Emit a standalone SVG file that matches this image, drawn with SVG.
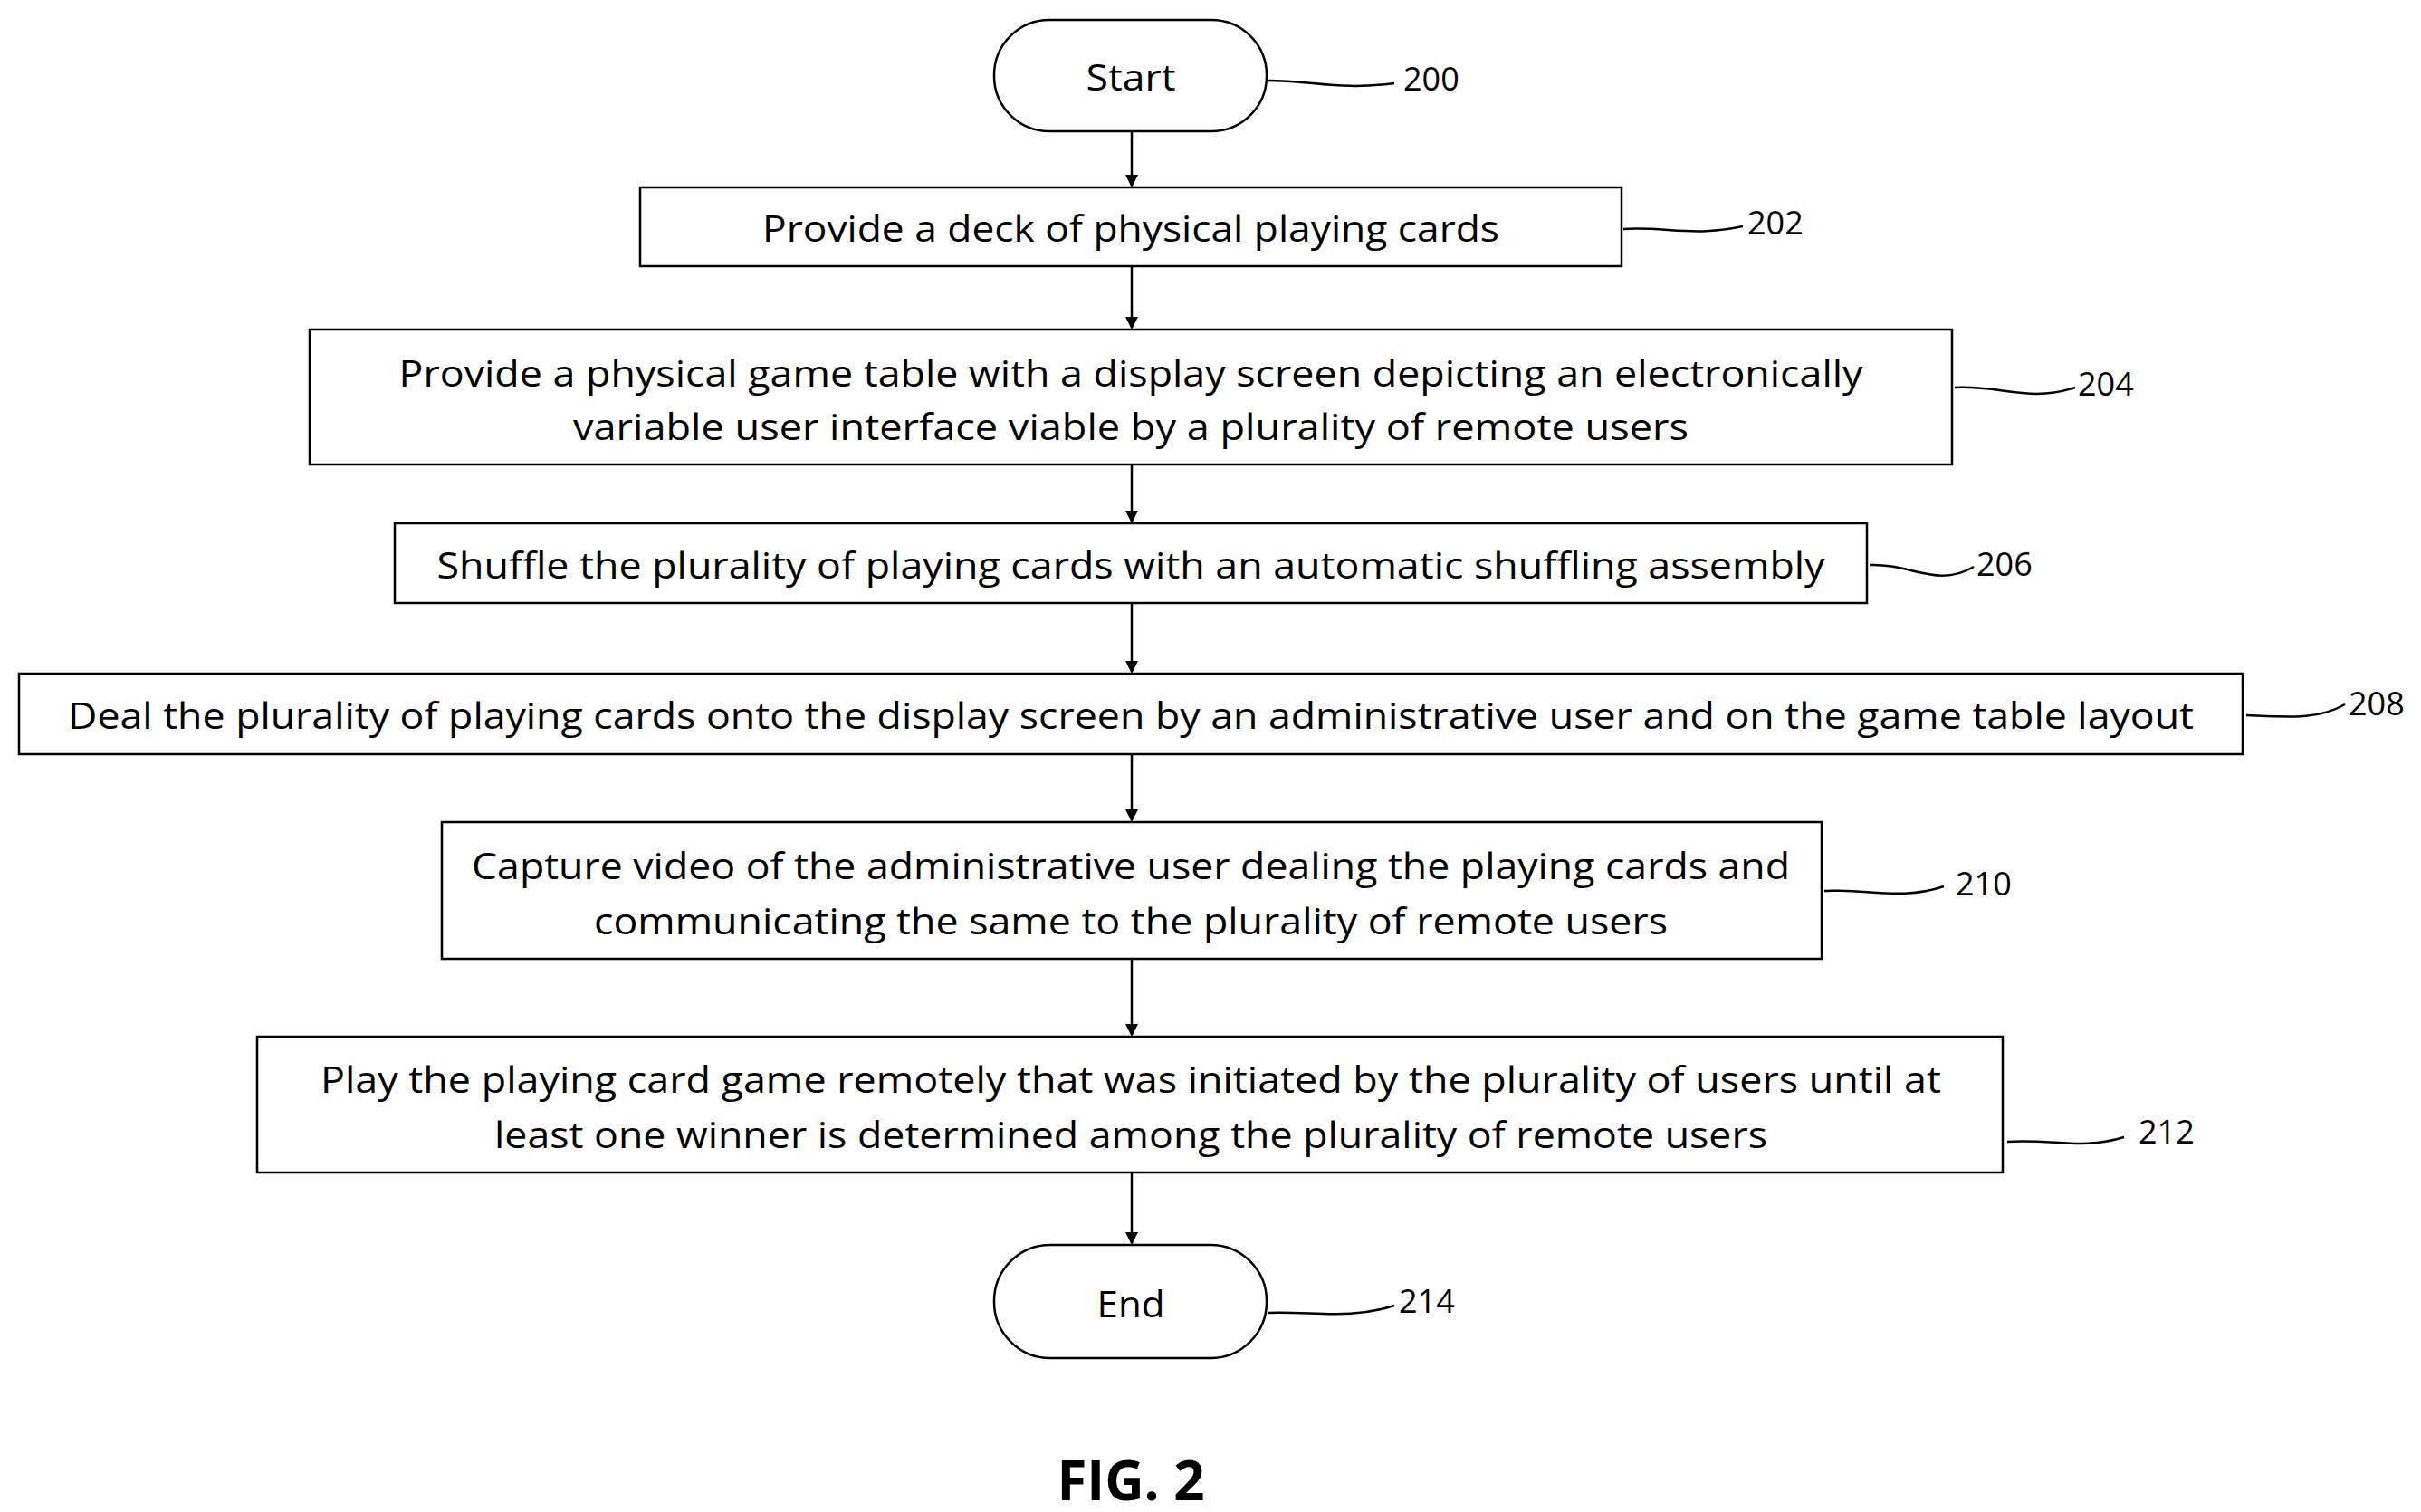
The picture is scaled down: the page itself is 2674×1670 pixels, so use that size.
<svg xmlns="http://www.w3.org/2000/svg" width="2674" height="1670" viewBox="0 0 2674 1670">
<style>
.b{fill:#fff;stroke:#000;stroke-width:2.5}
.t{font-family:"Open Sans","Liberation Sans",sans-serif;font-size:41px;fill:#000;text-anchor:middle;dominant-baseline:central}
.n{font-family:"Open Sans","Liberation Sans",sans-serif;font-size:36px;fill:#000;dominant-baseline:central}
.l{fill:none;stroke:#000;stroke-width:2.5}
</style>
<defs><marker id="a" markerWidth="10" markerHeight="10" refX="9" refY="5" orient="auto" markerUnits="userSpaceOnUse" viewBox="0 0 10 10"><path d="M0,0L10,5L0,10Z"/></marker></defs>
<rect width="2674" height="1670" fill="#fff"/>
<g id="connectors" class="l">
<line x1="1250" y1="146" x2="1250" y2="205" marker-end="url(#a)" transform="translate(0,0)"/>
<line x1="1250" y1="295" x2="1250" y2="362"/>
<line x1="1250" y1="514" x2="1250" y2="576"/>
<line x1="1250" y1="667" x2="1250" y2="742"/>
<line x1="1250" y1="834" x2="1250" y2="906"/>
<line x1="1250" y1="1060" x2="1250" y2="1143"/>
<line x1="1250" y1="1296" x2="1250" y2="1373"/>
<path d="M1400,89 C1450,89 1480,100 1540,92"/>
<path d="M1793,253 C1840,250 1870,262 1925,250"/>
<path d="M2159,428 C2210,425 2240,445 2292,428"/>
<path d="M2065,624 C2110,622 2140,650 2180,626"/>
<path d="M2481,790 C2530,792 2560,795 2590,778"/>
<path d="M2015,984 C2060,981 2100,995 2147,979"/>
<path d="M2217,1261 C2270,1258 2300,1270 2346,1256"/>
<path d="M1400,1450 C1450,1448 1490,1458 1540,1442"/>
</g>
<g fill="#000">
<path d="M1243,193L1257,193L1250,207Z"/><path d="M1243,350L1257,350L1250,364Z"/><path d="M1243,564L1257,564L1250,578Z"/><path d="M1243,730L1257,730L1250,744Z"/><path d="M1243,894L1257,894L1250,908Z"/><path d="M1243,1131L1257,1131L1250,1145Z"/><path d="M1243,1361L1257,1361L1250,1375Z"/>
</g>
<g id="n200"><rect class="b" x="1098" y="22" width="301" height="123" rx="61"/><text class="t" x="1249" y="84" textLength="99" lengthAdjust="spacingAndGlyphs">Start</text><text class="n" x="1550" y="86">200</text></g>
<g id="n202"><rect class="b" x="707" y="207" width="1084" height="87"/><text class="t" x="1249" y="251" textLength="814" lengthAdjust="spacingAndGlyphs">Provide a deck of physical playing cards</text><text class="n" x="1930" y="245">202</text></g>
<g id="n204"><rect class="b" x="342" y="364" width="1814" height="149"/><text class="t" x="1249" y="411" textLength="1617" lengthAdjust="spacingAndGlyphs">Provide a physical game table with a display screen depicting an electronically</text><text class="t" x="1249" y="470" textLength="1232" lengthAdjust="spacingAndGlyphs">variable user interface  viable by a plurality of remote users</text><text class="n" x="2295" y="423">204</text></g>
<g id="n206"><rect class="b" x="436" y="578" width="1626" height="88"/><text class="t" x="1249" y="623" textLength="1533" lengthAdjust="spacingAndGlyphs">Shuffle the plurality of playing cards with an automatic shuffling assembly</text><text class="n" x="2183" y="622">206</text></g>
<g id="n208"><rect class="b" x="21" y="744" width="2456" height="89"/><text class="t" x="1249" y="789" textLength="2348" lengthAdjust="spacingAndGlyphs">Deal the plurality of playing cards onto the display screen by an administrative user and on the game table layout</text><text class="n" x="2594" y="776">208</text></g>
<g id="n210"><rect class="b" x="488" y="908" width="1524" height="151"/><text class="t" x="1249" y="955" textLength="1456" lengthAdjust="spacingAndGlyphs">Capture video of the administrative user dealing the playing cards and</text><text class="t" x="1249" y="1016" textLength="1186" lengthAdjust="spacingAndGlyphs">communicating the same to the plurality of remote users</text><text class="n" x="2160" y="975">210</text></g>
<g id="n212"><rect class="b" x="284" y="1145" width="1928" height="150"/><text class="t" x="1249" y="1191" textLength="1790" lengthAdjust="spacingAndGlyphs">Play the playing card game remotely that was initiated by the plurality of users until at</text><text class="t" x="1249" y="1252" textLength="1406" lengthAdjust="spacingAndGlyphs">least one winner is determined among the plurality of remote users</text><text class="n" x="2362" y="1249">212</text></g>
<g id="n214"><rect class="b" x="1098" y="1375" width="301" height="125" rx="62"/><text class="t" x="1249" y="1439" textLength="75" lengthAdjust="spacingAndGlyphs">End</text><text class="n" x="1545" y="1436">214</text></g>
<text x="1249" y="1634" font-family="Open Sans,Liberation Sans,sans-serif" font-weight="bold" font-size="60" text-anchor="middle" dominant-baseline="central">FIG. 2</text>
</svg>
